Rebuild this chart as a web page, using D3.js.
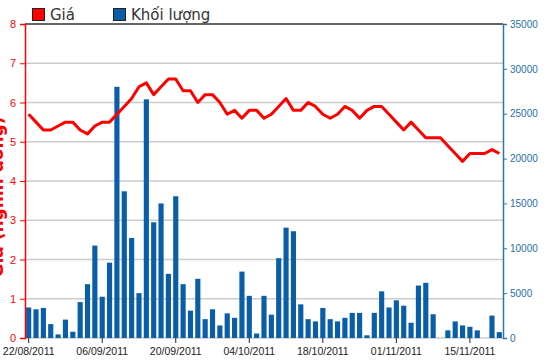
<!DOCTYPE html>
<html>
<head>
<meta charset="utf-8">
<script src="https://cdn.jsdelivr.net/npm/d3@7"></script>
<style>
  body { margin: 0; background: #fff; }
  svg { display: block; font-family: "DejaVu Sans", Verdana, sans-serif; }
</style>
</head>
<body>
<svg id="chart" width="550" height="364"></svg>
<script>
// trading days 22/08/2011 .. 21/11/2011
const dates = [
  "22/08/2011","23/08/2011","24/08/2011","25/08/2011","26/08/2011","29/08/2011","30/08/2011","31/08/2011","01/09/2011","05/09/2011",
  "06/09/2011","07/09/2011","08/09/2011","09/09/2011","12/09/2011","13/09/2011","14/09/2011","15/09/2011","16/09/2011","19/09/2011",
  "20/09/2011","21/09/2011","22/09/2011","23/09/2011","26/09/2011","27/09/2011","28/09/2011","29/09/2011","30/09/2011","03/10/2011",
  "04/10/2011","05/10/2011","06/10/2011","07/10/2011","10/10/2011","11/10/2011","12/10/2011","13/10/2011","14/10/2011","17/10/2011",
  "18/10/2011","19/10/2011","20/10/2011","21/10/2011","24/10/2011","25/10/2011","26/10/2011","27/10/2011","28/10/2011","31/10/2011",
  "01/11/2011","02/11/2011","03/11/2011","04/11/2011","07/11/2011","08/11/2011","09/11/2011","10/11/2011","11/11/2011","14/11/2011",
  "15/11/2011","16/11/2011","17/11/2011","18/11/2011","21/11/2011"
];

const price = [
  5.7, 5.5, 5.3, 5.3, 5.4, 5.5, 5.5, 5.3, 5.2, 5.4,
  5.5, 5.5, 5.7, 5.9, 6.1, 6.4, 6.5, 6.2, 6.4, 6.6,
  6.6, 6.3, 6.3, 6.0, 6.2, 6.2, 6.0, 5.7, 5.8, 5.6,
  5.8, 5.8, 5.6, 5.7, 5.9, 6.1, 5.8, 5.8, 6.0, 5.9,
  5.7, 5.6, 5.7, 5.9, 5.8, 5.6, 5.8, 5.9, 5.9, 5.7,
  5.5, 5.3, 5.5, 5.3, 5.1, 5.1, 5.1, 4.9, 4.7, 4.5,
  4.7, 4.7, 4.7, 4.8, 4.7
];

const volume = [
  3400, 3200, 3350, 1550, 400, 2050, 700, 4000, 6000, 10300,
  4600, 8400, 28000, 16350, 11150, 5000, 26600, 12900, 15000, 7150,
  15800, 6000, 3050, 6600, 2100, 3200, 1400, 2750, 2250, 7400,
  4700, 500, 4700, 2600, 8900, 12300, 11900, 3750, 2100, 1850,
  3350, 2100, 1850, 2250, 2800, 2800, 300, 2800, 5200, 3400,
  4200, 3600, 1700, 5850, 6150, 2650, 0, 850, 1850, 1400,
  1250, 850, 0, 2500, 650
];

const priceTicks = [0, 1, 2, 3, 4, 5, 6, 7, 8];
const volumeTicks = [0, 5000, 10000, 15000, 20000, 25000, 30000, 35000];

const plotLeft = 25, plotRight = 503, plotTop = 24, plotBottom = 338;
const svg = d3.select("#chart");

const x = d3.scaleBand()
    .domain(dates)
    .range([plotLeft, plotRight])
    .paddingInner(0.3)
    .paddingOuter(0.15);

const yP = d3.scaleLinear().domain([0, 8]).range([plotBottom, plotTop]);
const yV = d3.scaleLinear().domain([0, 35000]).range([plotBottom, plotTop]);

// gridlines
svg.append("g")
  .selectAll("line")
  .data(priceTicks.slice(0, -1))
  .join("line")
    .attr("x1", plotLeft).attr("x2", plotRight)
    .attr("y1", d => yP(d)).attr("y2", d => yP(d))
    .attr("stroke", "#cccccc")
    .attr("stroke-width", 1.5);

svg.append("line")
    .attr("x1", plotLeft).attr("x2", plotRight)
    .attr("y1", yP(8)).attr("y2", yP(8))
    .attr("stroke", "#333")
    .attr("stroke-width", 1.5);

// volume bars
svg.append("g")
  .selectAll("rect")
  .data(volume)
  .join("rect")
    .attr("x", (d, i) => x(dates[i]))
    .attr("y", d => yV(d))
    .attr("width", x.bandwidth())
    .attr("height", d => plotBottom - yV(d))
    .attr("fill", "#0a5ea7");

// price line
const line = d3.line()
    .x((d, i) => x(dates[i]) + x.bandwidth() / 2)
    .y(d => yP(d));

svg.append("path")
    .datum(price)
    .attr("d", line)
    .attr("fill", "none")
    .attr("stroke", "#ff0000")
    .attr("stroke-width", 3)
    .attr("stroke-linejoin", "round");

// left axis
const gl = svg.append("g")
    .attr("transform", `translate(${plotLeft},0)`)
    .call(d3.axisLeft(yP).tickValues(priceTicks).tickSize(5).tickPadding(4).tickFormat(d3.format("d")));
gl.select(".domain").attr("stroke", "#ff0000").attr("stroke-width", 1.5);
gl.selectAll(".tick line").attr("stroke", "#ff0000");
gl.selectAll(".tick text").attr("fill", "#ff0000").style("font-size", "11px");

// right axis
const gr = svg.append("g")
    .attr("transform", `translate(${plotRight},0)`)
    .call(d3.axisRight(yV).tickValues(volumeTicks).tickSize(4).tickPadding(3).tickFormat(d3.format("d")));
gr.select(".domain").attr("stroke", "#2a78b0").attr("stroke-width", 1.5);
gr.selectAll(".tick line").attr("stroke", "#2a78b0");
gr.selectAll(".tick text").attr("fill", "#1f6fa8").style("font-size", "10px");

// bottom axis
const gb = svg.append("g")
    .attr("transform", `translate(0,${plotBottom})`)
    .call(d3.axisBottom(x).tickValues(dates.filter((d, i) => i % 10 === 0)).tickSize(5).tickPadding(5));
gb.select(".domain").remove();
gb.selectAll(".tick line").attr("stroke", "#222");
gb.selectAll(".tick text").attr("fill", "#222").style("font-size", "10.5px");

// left axis title: pushed past the left edge, only a sliver shows, as in the original
svg.append("text")
    .attr("transform", "translate(3,197) rotate(-90)")
    .attr("text-anchor", "middle")
    .attr("fill", "#ff0000")
    .style("font-size", "17px")
    .style("font-weight", "bold")
    .text("Giá (nghìn đồng)");

// legend
const legend = [
  { label: "Giá", color: "#ff0000", x: 32 },
  { label: "Khối lượng", color: "#0a5ea7", x: 113 }
];
const lg = svg.append("g");
lg.selectAll("rect")
  .data(legend)
  .join("rect")
    .attr("x", d => d.x + 0.5).attr("y", 8.5)
    .attr("width", 12).attr("height", 12)
    .attr("fill", d => d.color)
    .attr("stroke", "#222");
lg.selectAll("text")
  .data(legend)
  .join("text")
    .attr("x", d => d.x + 18).attr("y", 20)
    .attr("fill", "#333")
    .style("font-size", "15px")
    .text(d => d.label);
</script>
</body>
</html>
